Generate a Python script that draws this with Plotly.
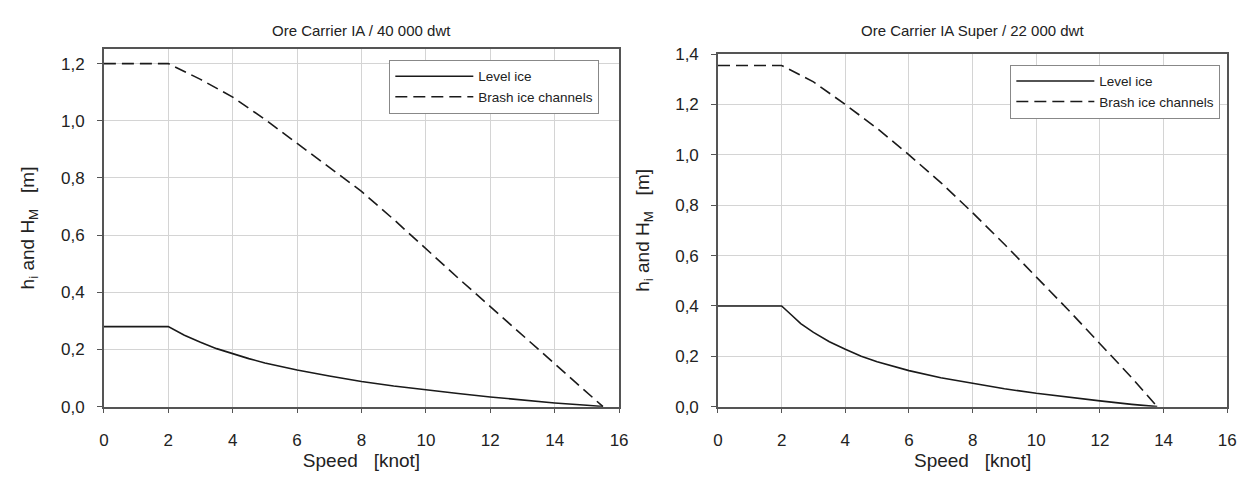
import plotly.graph_objects as go

# Left: Ore Carrier IA / 40 000 dwt
speed_l_level = [0, 2, 2.5, 3, 3.5, 4, 4.5, 5, 5.5, 6, 7, 8, 9, 10, 11, 12, 13, 14, 15, 15.5]
level_l = [0.28, 0.28, 0.25, 0.225, 0.203, 0.185, 0.168, 0.153, 0.14, 0.128, 0.107, 0.088, 0.072, 0.058, 0.046, 0.034, 0.023, 0.013, 0.005, 0.0]
speed_l_brash = [0, 2, 3, 4, 5, 6, 7, 8, 9, 10, 11, 12, 13, 14, 15, 15.5]
brash_l = [1.2, 1.2, 1.145, 1.083, 1.005, 0.921, 0.84, 0.753, 0.655, 0.551, 0.45, 0.35, 0.25, 0.148, 0.05, 0.0]

# Right: Ore Carrier IA Super / 22 000 dwt
speed_r_level = [0, 2, 2.3, 2.6, 3, 3.5, 4, 4.5, 5, 5.5, 6, 7, 8, 9, 10, 11, 12, 13, 13.8]
level_r = [0.4, 0.4, 0.365, 0.33, 0.295, 0.258, 0.228, 0.2, 0.178, 0.16, 0.143, 0.115, 0.092, 0.071, 0.053, 0.037, 0.023, 0.009, 0.0]
speed_r_brash = [0, 2, 3, 4, 5, 6, 7, 8, 9, 10, 11, 12, 13, 13.8]
brash_r = [1.355, 1.355, 1.29, 1.2, 1.105, 1.0, 0.89, 0.77, 0.645, 0.515, 0.385, 0.25, 0.115, 0.0]

titles = ["Ore Carrier IA / 40 000 dwt", "Ore Carrier IA Super / 22 000 dwt"]
x_ticks = [0, 2, 4, 6, 8, 10, 12, 14, 16]
y_ticks_l = [0, 0.2, 0.4, 0.6, 0.8, 1.0, 1.2]
y_ticks_r = [0, 0.2, 0.4, 0.6, 0.8, 1.0, 1.2, 1.4]

fig = go.Figure()
line_col = "#1a1a1a"
dash = "12px,6px"
fig.add_trace(go.Scatter(x=speed_l_level, y=level_l, mode="lines", name="Level ice",
                         line=dict(color=line_col, width=1.6), xaxis="x", yaxis="y", legend="legend"))
fig.add_trace(go.Scatter(x=speed_l_brash, y=brash_l, mode="lines", name="Brash ice channels",
                         line=dict(color=line_col, width=1.6, dash=dash), xaxis="x", yaxis="y", legend="legend"))
fig.add_trace(go.Scatter(x=speed_r_level, y=level_r, mode="lines", name="Level ice",
                         line=dict(color=line_col, width=1.6), xaxis="x2", yaxis="y2", legend="legend2"))
fig.add_trace(go.Scatter(x=speed_r_brash, y=brash_r, mode="lines", name="Brash ice channels",
                         line=dict(color=line_col, width=1.6, dash=dash), xaxis="x2", yaxis="y2", legend="legend2"))

font_family = "Liberation Sans, Arial, sans-serif"
axis_common = dict(
    showgrid=True, gridcolor="#d4d4d4", gridwidth=1,
    showline=True, linecolor="#555555", linewidth=1.5, mirror=True,
    ticks="outside", ticklen=5, tickcolor="#555555", tickwidth=1.2,
    tickfont=dict(family=font_family, size=17, color="#222222"),
    zeroline=False,
)

W, H = 1259, 481
lx0, lx1 = 100 / W, 621 / W
rx0, rx1 = 721 / W, 1236 / W
ly0, ly1 = (H - 414) / H, (H - 42) / H
ry0, ry1 = (H - 414) / H, (H - 47) / H

ytitle = "h<sub>i</sub> and H<sub>M</sub>&nbsp;&nbsp;&nbsp;[m]"
xtitle = "Speed&nbsp;&nbsp;&nbsp;[knot]"

legend_common = dict(xanchor="right", yanchor="top",
                     bgcolor="white", bordercolor="#888888", borderwidth=1,
                     font=dict(family=font_family, size=13.5, color="#222222"),
                     tracegroupgap=0, itemwidth=78)

fig.update_layout(
    width=W, height=H,
    margin=dict(l=0, r=0, t=0, b=0),
    paper_bgcolor="white", plot_bgcolor="white",
    separators=", ",
    showlegend=True,
    font=dict(family=font_family, color="#222222"),
    xaxis=dict(domain=[lx0, lx1], range=[0, 16], tickvals=x_ticks, anchor="y", ticklabelstandoff=12,
               title=dict(text=xtitle, font=dict(size=19), standoff=4), **axis_common),
    yaxis=dict(domain=[ly0, ly1], range=[0, 1.25], tickvals=y_ticks_l,
               tickformat=".1f", anchor="x", ticklabelstandoff=9,
               title=dict(text=ytitle, font=dict(size=19), standoff=21), **axis_common),
    xaxis2=dict(domain=[rx0, rx1], range=[0, 16], tickvals=x_ticks, anchor="y2", ticklabelstandoff=12,
                title=dict(text=xtitle, font=dict(size=19), standoff=4), **axis_common),
    yaxis2=dict(domain=[ry0, ry1], range=[0, 1.4], tickvals=y_ticks_r,
                tickformat=".1f", anchor="x2", ticklabelstandoff=9,
                title=dict(text=ytitle, font=dict(size=19), standoff=21), **axis_common),
    legend=dict(x=601 / W, y=(H - 53) / H, **legend_common),
    legend2=dict(x=1229 / W, y=(H - 58) / H, **legend_common),
    annotations=[
        dict(text=titles[0], x=(lx0 + lx1) / 2, y=(H - 33) / H, xref="paper", yref="paper",
             xanchor="center", yanchor="bottom", showarrow=False,
             font=dict(family=font_family, size=15, color="#222222")),
        dict(text=titles[1], x=(rx0 + rx1) / 2, y=(H - 33) / H, xref="paper", yref="paper",
             xanchor="center", yanchor="bottom", showarrow=False,
             font=dict(family=font_family, size=15, color="#222222")),
    ],
)

fig.write_html("out.html")
